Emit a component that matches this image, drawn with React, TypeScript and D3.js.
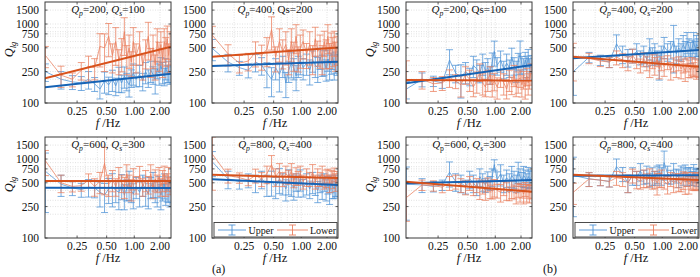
import React from 'react';
import * as d3 from 'd3';

// ---------- data ----------
const FREQ = [0.125, 0.175, 0.225, 0.275, 0.325, 0.375, 0.425, 0.475, 0.525, 0.575, 0.625, 0.675, 0.725, 0.775, 0.825, 0.875, 0.925, 0.975, 1.05, 1.15, 1.25, 1.35, 1.45, 1.55, 1.65, 1.75, 1.85, 1.95, 2.05, 2.15, 2.25, 2.35, 2.45, 2.55, 2.65];
const FIT_F = [0.124, 2.73];

const X_TICKS = [0.25, 0.5, 1, 2];
const X_TICK_LABELS = ['0.25', '0.50', '1.00', '2.00'];
const X_GRID = [0.2, 0.3, 0.4, 0.5, 0.6, 0.7, 0.8, 0.9, 1, 2];
const Y_TICKS = [100, 250, 500, 750, 1000, 1500];
const Y_GRID = [200, 250, 300, 400, 500, 600, 700, 750, 800, 900, 1000, 1500];

// (a) Qp=200, Qs=100
const A1_UP = [250, 200, 185, 180, 200, 175, 150, 190, 170, 200, 165, 210, 180, 220, 190, 170, 210, 240, 200, 230, 190, 250, 210, 260, 230, 200, 270, 240, 300, 250, 220, 280, 240, 260, 230];
const A1_UP_ERR = [25, 25, 20, 20, 25, 20, 25, 30, 25, 30, 25, 35, 25, 30, 25, 30, 25, 30, 20, 30, 25, 30, 25, 30, 25, 35, 25, 30, 25, 30, 25, 30, 25, 30, 25];
const A1_LO = [400, 225, 200, 260, 290, 280, 520, 500, 700, 400, 600, 350, 450, 800, 380, 500, 330, 600, 400, 550, 300, 450, 700, 350, 500, 300, 600, 420, 550, 350, 600, 480, 650, 400, 550];
const A1_LO_ERR = [30, 30, 20, 25, 35, 30, 45, 50, 45, 40, 50, 35, 45, 50, 40, 45, 35, 50, 40, 45, 35, 40, 50, 40, 45, 35, 45, 40, 45, 40, 45, 40, 45, 40, 45];
const A1_UP_FIT = [158, 235];
const A1_LO_FIT = [205, 516];

// (a) Qp=400, Qs=200
const A2_UP = [490, 330, 280, 260, 330, 300, 240, 200, 280, 230, 300, 180, 260, 320, 280, 220, 300, 350, 280, 320, 260, 350, 300, 280, 380, 310, 340, 270, 360, 300, 330, 380, 300, 340, 320];
const A2_UP_ERR = [30, 25, 20, 20, 25, 25, 35, 40, 30, 40, 30, 35, 30, 35, 30, 35, 30, 35, 30, 30, 35, 30, 30, 35, 30, 30, 35, 30, 30, 35, 30, 30, 35, 30, 30];
const A2_LO = [720, 420, 320, 340, 440, 400, 480, 850, 380, 600, 450, 550, 350, 600, 420, 700, 380, 500, 600, 420, 550, 380, 650, 450, 500, 380, 600, 450, 700, 420, 550, 480, 600, 420, 500];
const A2_LO_ERR = [30, 30, 25, 25, 35, 35, 40, 45, 35, 45, 40, 45, 35, 45, 40, 40, 35, 45, 40, 35, 45, 40, 40, 35, 45, 40, 35, 40, 40, 35, 40, 40, 35, 40, 40];
const A2_UP_FIT = [294, 333];
const A2_LO_FIT = [386, 505];

// (a) Qp=600, Qs=300
const A3_UP = [700, 480, 430, 410, 440, 430, 380, 350, 420, 450, 400, 380, 470, 350, 420, 500, 400, 360, 450, 380, 480, 420, 360, 450, 500, 400, 380, 460, 350, 420, 480, 370, 440, 400, 380];
const A3_UP_ERR = [70, 30, 20, 20, 25, 25, 35, 40, 35, 45, 30, 40, 35, 35, 30, 40, 30, 35, 30, 35, 30, 40, 35, 30, 35, 30, 35, 30, 35, 30, 35, 30, 35, 30, 35];
const A3_LO = [950, 500, 450, 460, 540, 450, 520, 880, 480, 550, 450, 600, 500, 450, 650, 500, 420, 580, 480, 620, 450, 550, 480, 650, 420, 560, 500, 600, 450, 550, 650, 480, 520, 600, 470];
const A3_LO_ERR = [35, 25, 15, 15, 20, 25, 30, 60, 30, 30, 25, 30, 25, 30, 30, 25, 30, 30, 25, 30, 25, 30, 25, 30, 25, 30, 25, 30, 25, 30, 25, 30, 25, 30, 25];
const A3_UP_FIT = [433, 430];
const A3_LO_FIT = [525, 525];

// (a) Qp=800, Qs=400
const A4_UP = [920, 560, 520, 540, 500, 560, 480, 520, 450, 560, 500, 420, 540, 480, 430, 520, 470, 560, 440, 500, 420, 520, 460, 400, 500, 440, 520, 420, 480, 380, 500, 450, 420, 480, 440];
const A4_UP_ERR = [35, 25, 20, 20, 25, 25, 30, 35, 30, 35, 30, 30, 35, 30, 30, 25, 30, 30, 25, 30, 25, 30, 25, 30, 25, 30, 25, 30, 25, 30, 25, 30, 25, 30, 25];
const A4_LO = [1150, 620, 580, 540, 620, 560, 650, 850, 600, 700, 560, 650, 600, 700, 540, 620, 580, 650, 520, 600, 560, 680, 520, 600, 560, 650, 520, 580, 620, 500, 600, 560, 640, 520, 580];
const A4_LO_ERR = [65, 20, 15, 15, 20, 20, 25, 30, 25, 25, 20, 25, 20, 25, 20, 25, 20, 25, 20, 25, 20, 25, 20, 25, 20, 25, 20, 25, 20, 25, 20, 25, 20, 25, 20];
const A4_UP_FIT = [553, 470];
const A4_LO_FIT = [630, 575];

// (b) Qp=200, Qs=100
const B1_UP = [150, 200, 190, 180, 350, 240, 210, 250, 220, 300, 270, 240, 320, 260, 280, 230, 330, 450, 300, 350, 270, 320, 280, 380, 300, 260, 340, 420, 310, 280, 350, 300, 380, 280, 320];
const B1_UP_ERR = [25, 20, 15, 15, 35, 25, 45, 30, 25, 30, 30, 25, 30, 25, 30, 25, 30, 35, 25, 30, 25, 30, 25, 30, 25, 30, 25, 45, 25, 30, 25, 30, 25, 30, 25];
const B1_LO = [190, 200, 175, 180, 210, 190, 170, 230, 200, 160, 190, 250, 180, 160, 200, 230, 170, 190, 160, 210, 180, 150, 200, 170, 230, 160, 190, 210, 170, 200, 160, 220, 180, 200, 240];
const B1_LO_ERR = [80, 25, 20, 20, 25, 20, 30, 25, 30, 25, 30, 25, 30, 25, 30, 25, 30, 25, 30, 25, 30, 25, 30, 25, 30, 25, 30, 25, 30, 25, 30, 25, 30, 25, 30];
const B1_UP_FIT = [178, 302];
const B1_LO_FIT = [195, 192];

// (b) Qp=400, Qs=200
const B2_UP = [250, 380, 350, 330, 560, 420, 380, 400, 450, 380, 420, 360, 500, 400, 450, 380, 300, 420, 520, 450, 480, 600, 420, 500, 450, 550, 480, 600, 520, 450, 500, 600, 480, 550, 520];
const B2_UP_ERR = [50, 15, 15, 15, 30, 25, 25, 20, 25, 20, 25, 20, 30, 25, 25, 20, 35, 25, 30, 25, 25, 60, 25, 30, 25, 30, 25, 30, 25, 30, 25, 30, 25, 30, 25];
const B2_LO = [380, 370, 340, 330, 380, 350, 320, 400, 340, 300, 360, 320, 280, 340, 300, 360, 270, 320, 290, 330, 260, 310, 280, 320, 270, 300, 250, 310, 280, 260, 300, 270, 290, 250, 280];
const B2_LO_ERR = [50, 15, 15, 15, 20, 20, 20, 20, 20, 20, 20, 20, 25, 20, 25, 20, 25, 20, 25, 20, 25, 20, 25, 20, 25, 20, 25, 20, 25, 20, 25, 20, 25, 20, 25];
const B2_UP_FIT = [368, 469];
const B2_LO_FIT = [385, 288];

// (b) Qp=600, Qs=300
const B3_UP = [480, 470, 450, 470, 680, 520, 500, 450, 560, 500, 430, 600, 520, 470, 550, 500, 600, 850, 550, 650, 500, 580, 520, 620, 560, 500, 700, 600, 540, 620, 580, 520, 600, 560, 580];
const B3_UP_ERR = [65, 20, 15, 15, 35, 25, 25, 20, 25, 25, 20, 25, 25, 20, 25, 20, 25, 15, 25, 30, 25, 25, 25, 30, 25, 25, 30, 25, 25, 30, 25, 25, 30, 25, 25];
const B3_LO = [325, 470, 460, 440, 500, 520, 470, 440, 500, 430, 470, 410, 450, 400, 480, 420, 390, 440, 400, 380, 430, 400, 370, 420, 390, 360, 410, 380, 400, 360, 420, 380, 400, 370, 390];
const B3_LO_ERR = [50, 15, 15, 15, 20, 20, 20, 20, 20, 20, 20, 25, 20, 25, 20, 25, 20, 25, 20, 25, 20, 25, 20, 25, 20, 25, 20, 25, 20, 25, 20, 25, 20, 25, 20];
const B3_UP_FIT = [493, 541];
const B3_LO_FIT = [516, 385];

// (b) Qp=800, Qs=400
const B4_UP = [620, 560, 540, 520, 800, 650, 500, 620, 580, 700, 600, 650, 550, 620, 580, 650, 700, 620, 900, 650, 600, 700, 620, 580, 680, 620, 700, 600, 650, 620, 580, 680, 620, 600, 640];
const B4_UP_ERR = [70, 20, 15, 15, 25, 20, 25, 25, 20, 25, 20, 25, 20, 25, 20, 25, 20, 25, 40, 25, 20, 25, 20, 25, 20, 25, 20, 25, 20, 25, 20, 25, 20, 25, 20];
const B4_LO = [380, 560, 540, 520, 580, 560, 500, 620, 560, 520, 580, 540, 600, 520, 560, 500, 550, 580, 520, 480, 560, 500, 540, 520, 480, 550, 510, 560, 480, 520, 540, 500, 530, 510, 540];
const B4_LO_ERR = [30, 20, 15, 15, 20, 20, 25, 20, 25, 20, 25, 20, 25, 20, 25, 30, 20, 25, 20, 25, 20, 25, 20, 25, 20, 25, 30, 20, 25, 20, 25, 20, 25, 20, 25];
const B4_UP_FIT = [615, 625];
const B4_LO_FIT = [630, 541];

const SERIES_NAMES = ['Upper', 'Lower'];

// ---------- styling / layout ----------
const C_UP = '#4f93d6';
const C_UP_FIT = '#1663b5';
const C_LO = '#ea7f5f';
const C_LO_FIT = '#d8521c';
const FONT = "'Liberation Serif', 'Times New Roman', serif";
const PW = 126;
const PH = 101;
const COL_X = [45, 212, 406, 573];
const ROW_Y = [2, 137];

type Seg = { t: string; i?: boolean; sub?: boolean };
const T = (qp: string, qs: string, plainQs = false, uprightP = false): Seg[] => {
  const a: Seg[] = [{ t: 'Q', i: true }, { t: 'p', sub: true, i: !uprightP }, { t: '=' + qp + ', ' }];
  if (plainQs) a.push({ t: 'Qs=' + qs });
  else a.push({ t: 'Q', i: true }, { t: 's', sub: true, i: true }, { t: '=' + qs });
  return a;
};

const PANELS = [
  { id: 'A1', c: 0, r: 0, title: T('200', '100'), up: A1_UP, ue: A1_UP_ERR, lo: A1_LO, le: A1_LO_ERR, uf: A1_UP_FIT, lf: A1_LO_FIT },
  { id: 'A2', c: 1, r: 0, title: T('400', '200', true), up: A2_UP, ue: A2_UP_ERR, lo: A2_LO, le: A2_LO_ERR, uf: A2_UP_FIT, lf: A2_LO_FIT },
  { id: 'A3', c: 0, r: 1, title: T('600', '300'), up: A3_UP, ue: A3_UP_ERR, lo: A3_LO, le: A3_LO_ERR, uf: A3_UP_FIT, lf: A3_LO_FIT },
  { id: 'A4', c: 1, r: 1, title: T('800', '400'), up: A4_UP, ue: A4_UP_ERR, lo: A4_LO, le: A4_LO_ERR, uf: A4_UP_FIT, lf: A4_LO_FIT, legend: true },
  { id: 'B1', c: 2, r: 0, title: T('200', '100', true), up: B1_UP, ue: B1_UP_ERR, lo: B1_LO, le: B1_LO_ERR, uf: B1_UP_FIT, lf: B1_LO_FIT },
  { id: 'B2', c: 3, r: 0, title: T('400', '200'), up: B2_UP, ue: B2_UP_ERR, lo: B2_LO, le: B2_LO_ERR, uf: B2_UP_FIT, lf: B2_LO_FIT },
  { id: 'B3', c: 2, r: 1, title: T('600', '300', false, true), up: B3_UP, ue: B3_UP_ERR, lo: B3_LO, le: B3_LO_ERR, uf: B3_UP_FIT, lf: B3_LO_FIT },
  { id: 'B4', c: 3, r: 1, title: T('800', '400'), up: B4_UP, ue: B4_UP_ERR, lo: B4_LO, le: B4_LO_ERR, uf: B4_UP_FIT, lf: B4_LO_FIT, legend: true },
];

function SegText({ segs, x, y, size, anchor }: { segs: Seg[]; x: number; y: number; size: number; anchor: string }) {
  let shift = 0;
  return (
    <text x={x} y={y} fontSize={size} textAnchor={anchor} fill="#111">
      {segs.map((s, k) => {
        const target = s.sub ? 3 : 0;
        const dy = target - shift;
        shift = target;
        return (
          <tspan key={k} dy={dy} fontStyle={s.i ? 'italic' : 'normal'} fontSize={s.sub ? size * 0.7 : size}>
            {s.t}
          </tspan>
        );
      })}
    </text>
  );
}

function ErrSeries({ vals, errs, x, y, color, opacity }: any) {
  const line = d3.line<number>().x((_, i) => x(FREQ[i])).y((v) => y(v));
  return (
    <g stroke={color} strokeOpacity={opacity} fill="none" strokeWidth={0.9}>
      <path d={line(vals) || ''} />
      {vals.map((v: number, i: number) => {
        const xx = x(FREQ[i]);
        const lo = y(v * (1 - errs[i] / 100));
        const hi = y(v * (1 + errs[i] / 100));
        return (
          <g key={i}>
            <line x1={xx} x2={xx} y1={lo} y2={hi} />
            <line x1={xx - 3.5} x2={xx + 3.5} y1={lo} y2={lo} />
            <line x1={xx - 3.5} x2={xx + 3.5} y1={hi} y2={hi} />
          </g>
        );
      })}
    </g>
  );
}

function Panel({ p }: { p: any }) {
  const x0 = COL_X[p.c];
  const y0 = ROW_Y[p.r];
  const x = d3.scalePow().exponent(-0.1).domain([FIT_F[0], FIT_F[1]]).range([x0, x0 + PW]);
  const y = d3.scaleLog().domain([100, 1900]).range([y0 + PH, y0]);
  const fitLine = d3.line<number>().x((_, i) => x(FIT_F[i])).y((v) => y(v));
  const clipId = 'clip-' + p.id;
  const isLeft = p.c === 0 || p.c === 2;
  const lb = y0 + PH;
  return (
    <g>
      <defs>
        <clipPath id={clipId}>
          <rect x={x0} y={y0} width={PW} height={PH} />
        </clipPath>
      </defs>
      <rect x={x0} y={y0} width={PW} height={PH} fill="#fff" />
      {/* grid */}
      <g stroke="#cfcfcf" strokeWidth={0.6} strokeDasharray="1,1.5">
        {X_GRID.map((g) => (
          <line key={'gx' + g} x1={x(g)} x2={x(g)} y1={y0} y2={y0 + PH} />
        ))}
        {Y_GRID.map((g) => (
          <line key={'gy' + g} x1={x0} x2={x0 + PW} y1={y(g)} y2={y(g)} />
        ))}
      </g>
      <g clipPath={`url(#${clipId})`}>
        <ErrSeries vals={p.up} errs={p.ue} x={x} y={y} color={C_UP} opacity={0.85} />
        <ErrSeries vals={p.lo} errs={p.le} x={x} y={y} color={C_LO} opacity={0.85} />
        <path d={fitLine(p.uf) || ''} stroke={C_UP_FIT} strokeWidth={2} fill="none" />
        <path d={fitLine(p.lf) || ''} stroke={C_LO_FIT} strokeWidth={2} fill="none" />
      </g>
      {/* ticks */}
      <g stroke="#333" strokeWidth={0.8}>
        {X_TICKS.map((t) => (
          <g key={'tx' + t}>
            <line x1={x(t)} x2={x(t)} y1={y0 + PH} y2={y0 + PH - 2.5} />
            <line x1={x(t)} x2={x(t)} y1={y0} y2={y0 + 2.5} />
          </g>
        ))}
        {Y_TICKS.map((t) => (
          <g key={'ty' + t}>
            <line x1={x0} x2={x0 + 2.5} y1={y(t)} y2={y(t)} />
            <line x1={x0 + PW} x2={x0 + PW - 2.5} y1={y(t)} y2={y(t)} />
          </g>
        ))}
      </g>
      <rect x={x0} y={y0} width={PW} height={PH} fill="none" stroke="#3a3a3a" strokeWidth={1} />
      {/* tick labels */}
      <g fontSize={11.5} fill="#111">
        {X_TICKS.map((t, k) => (
          <text key={'lx' + t} x={x(t)} y={y0 + PH + 12} textAnchor="middle">
            {X_TICK_LABELS[k]}
          </text>
        ))}
        {Y_TICKS.map((t) => (
          <text key={'ly' + t} x={x0 - 6} y={y(t) + 4} textAnchor="end">
            {t}
          </text>
        ))}
      </g>
      {/* title */}
      <SegText segs={p.title} x={x0 + PW / 2} y={y0 + 11} size={11} anchor="middle" />
      {/* x label */}
      <text x={x0 + PW / 2} y={y0 + PH + 24} fontSize={12.5} textAnchor="middle" fill="#111">
        <tspan fontStyle="italic">f</tspan>
        <tspan> /Hz</tspan>
      </text>
      {/* y label */}
      {isLeft && (
        <g transform={`translate(${x0 - 32},${y0 + PH / 2 - 3}) rotate(-90)`}>
          <text x={0} y={0} fontSize={12.5} textAnchor="middle" fill="#111">
            <tspan fontStyle="italic">Q</tspan>
            <tspan fontStyle="italic" fontSize={8.5} dy={3}>lg</tspan>
          </text>
        </g>
      )}
      {/* legend */}
      {p.legend && (
        <g>
          <rect x={x0 + 2} y={lb - 15.5} width={PW - 3} height={14.5} fill="#fff" stroke="#3a3a3a" strokeWidth={0.9} />
          {[
            { name: SERIES_NAMES[0], c: C_UP, a: 6, b: 34, tx: 36.5 },
            { name: SERIES_NAMES[1], c: C_LO, a: 65, b: 96, tx: 98 },
          ].map((e) => {
            const ly = lb - 8;
            const cx = x0 + (e.a + e.b) / 2;
            return (
              <g key={e.name}>
                <g stroke={e.c} strokeWidth={0.9}>
                  <line x1={x0 + e.a} x2={x0 + e.b} y1={ly} y2={ly} />
                  <line x1={cx} x2={cx} y1={ly - 5} y2={ly + 5} />
                  <line x1={cx - 3.5} x2={cx + 3.5} y1={ly - 5} y2={ly - 5} />
                  <line x1={cx - 3.5} x2={cx + 3.5} y1={ly + 5} y2={ly + 5} />
                </g>
                <text x={x0 + e.tx} y={ly + 3.5} fontSize={10} fill="#111">
                  {e.name}
                </text>
              </g>
            );
          })}
        </g>
      )}
    </g>
  );
}

export default function App() {
  return (
    <svg
      width={700}
      height={277}
      viewBox="0 0 700 277"
      style={{ position: 'absolute', left: 0, top: 0, background: '#fff' }}
      fontFamily={FONT}
    >
      <rect x={0} y={0} width={700} height={277} fill="#fff" />
      {PANELS.map((p) => (
        <Panel key={p.id} p={p} />
      ))}
      <text x={212} y={273} fontSize={12} fill="#111">(a)</text>
      <text x={543} y={273} fontSize={12} fill="#111">(b)</text>
    </svg>
  );
}
